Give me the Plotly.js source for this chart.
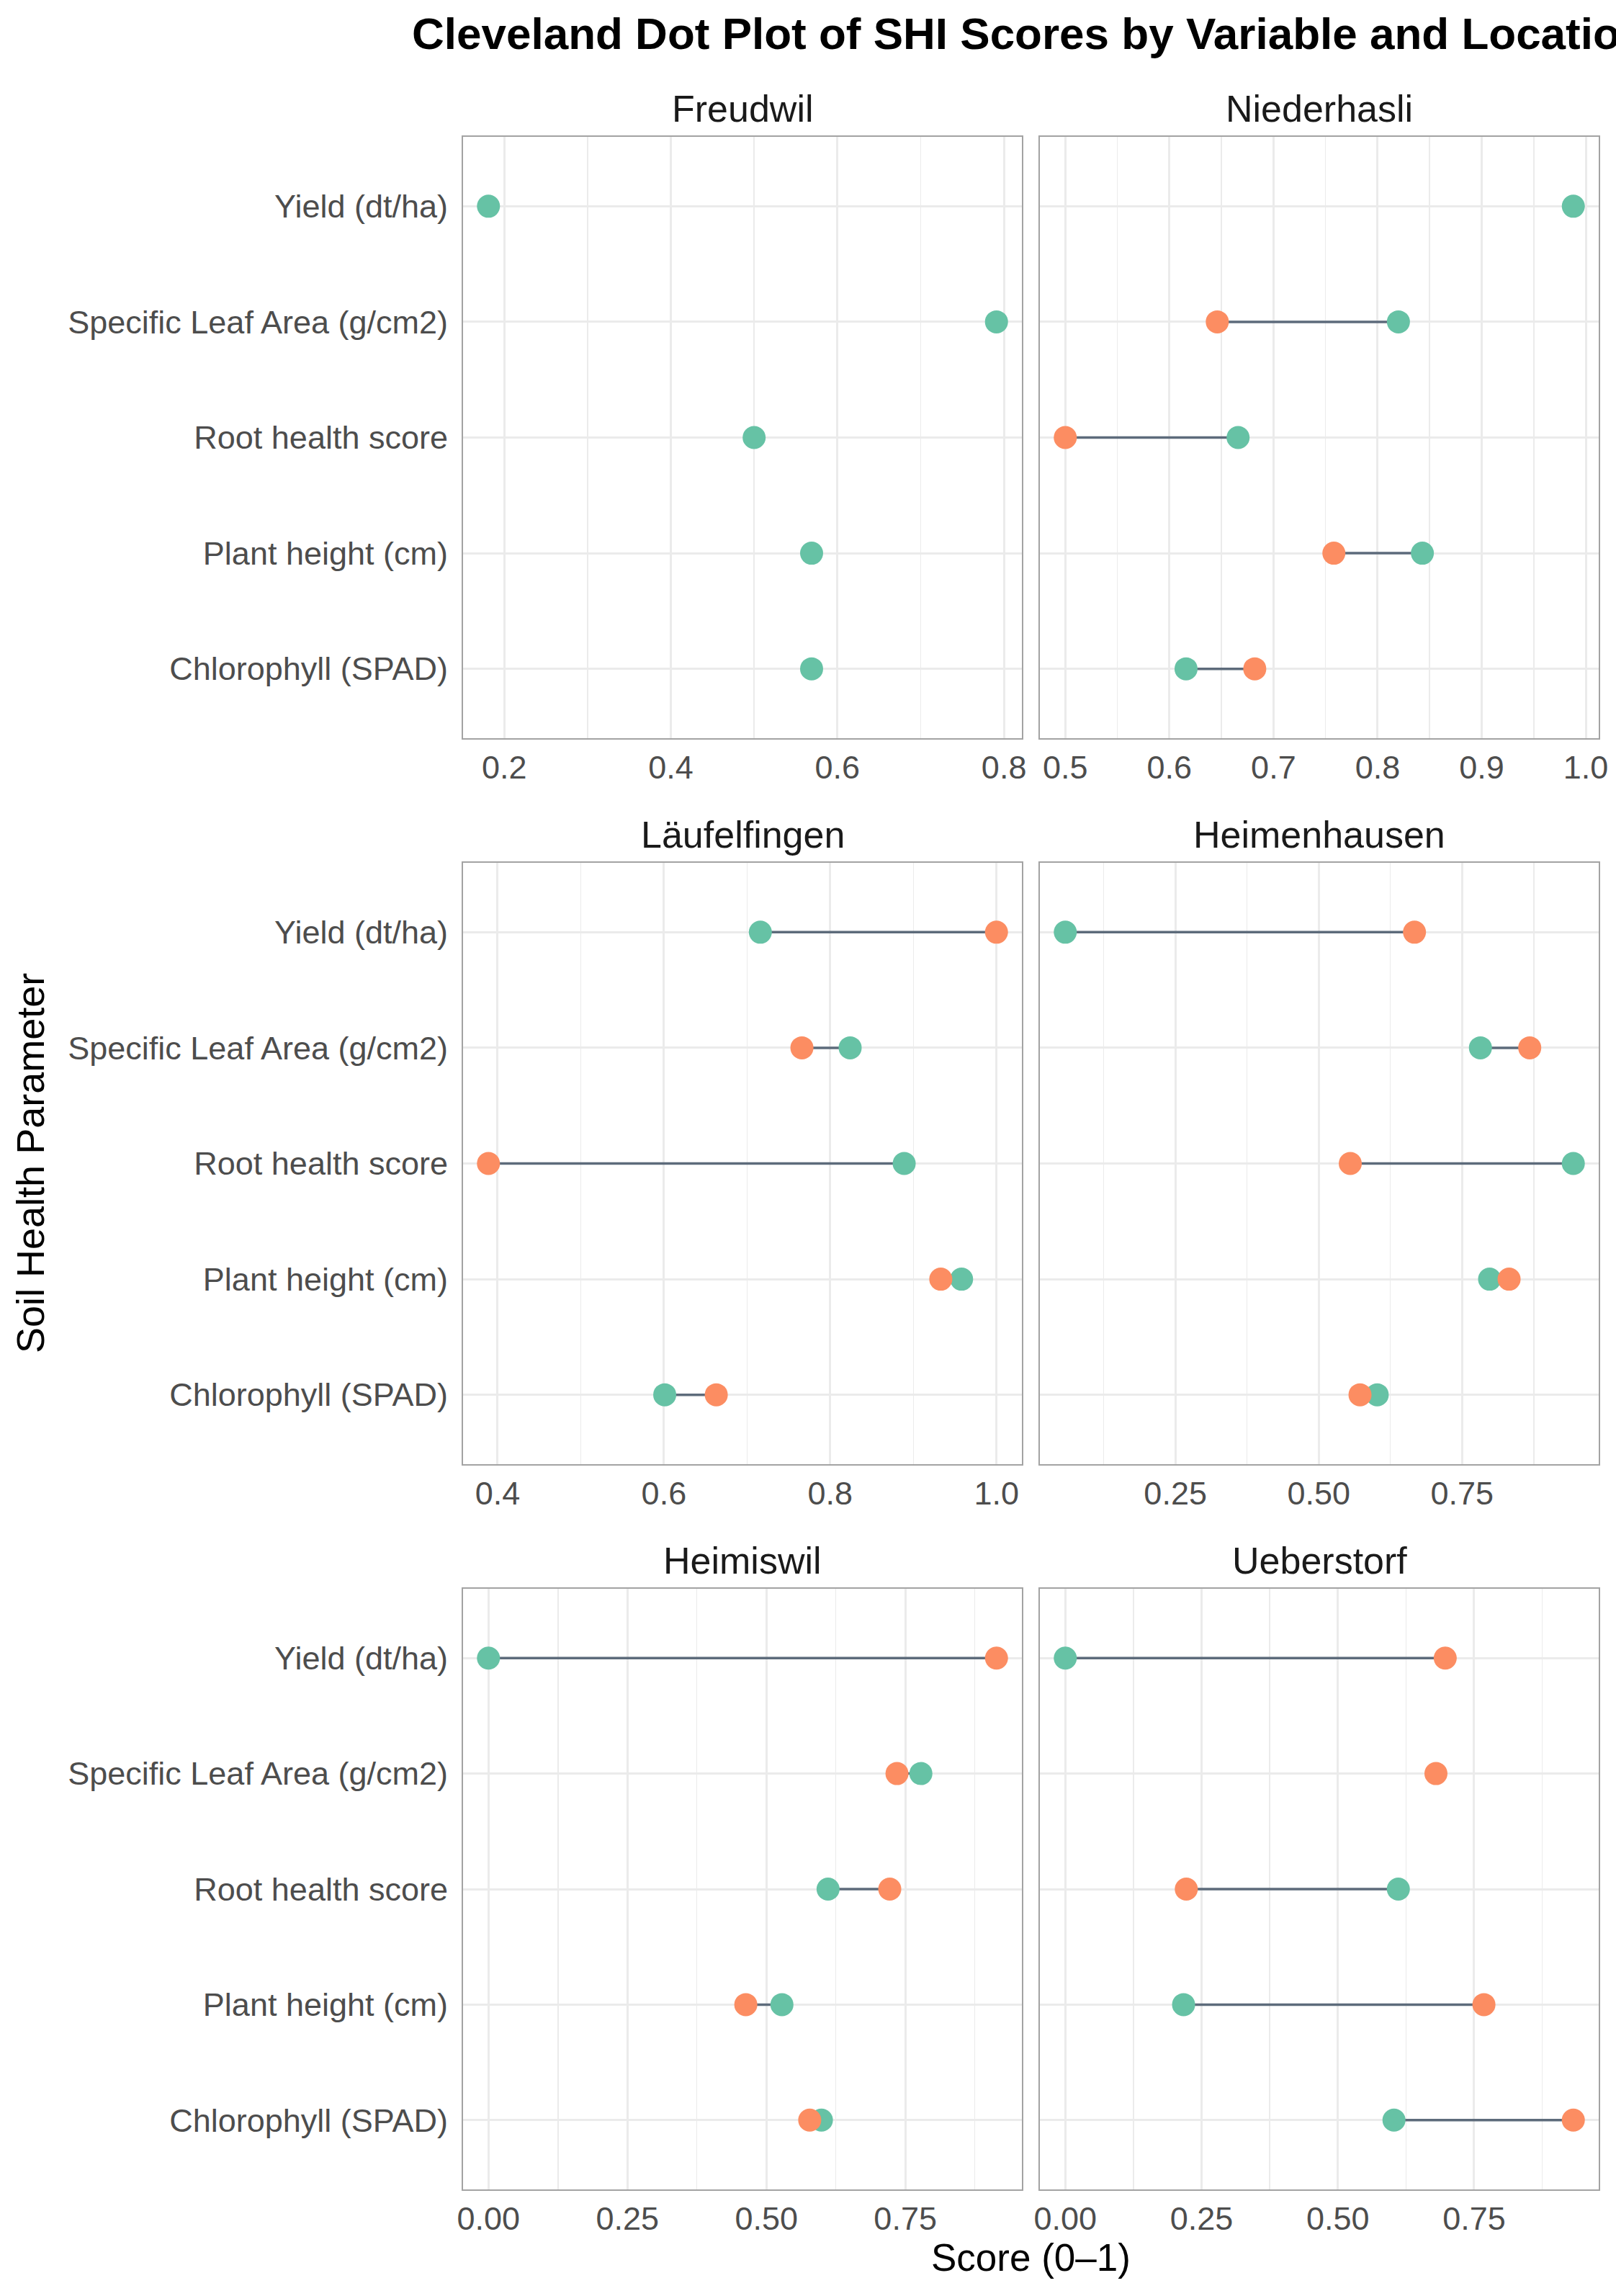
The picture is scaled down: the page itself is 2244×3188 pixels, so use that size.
<!DOCTYPE html>
<html>
<head>
<meta charset="utf-8">
<script src="https://cdn.plot.ly/plotly-3.0.1.min.js"></script>
<style>html,body{margin:0;padding:0;background:#fff;overflow:hidden}</style>
</head>
<body>
<div id="chart" style="width:2244px;height:3188px;"></div>
<script>
// ---- data ----
const categories = ["Chlorophyll (SPAD)", "Plant height (cm)", "Root health score", "Specific Leaf Area (g/cm2)", "Yield (dt/ha)"];
const locations = ["Freudwil", "Niederhasli", "Läufelfingen", "Heimenhausen", "Heimiswil", "Ueberstorf"];

// green series (order follows categories)
const greenFreudwil     = [0.569, 0.569, 0.500, 0.791, 0.181];
const greenNiederhasli  = [0.616, 0.843, 0.666, 0.820, 0.988];
const greenLaufelfingen = [0.601, 0.958, 0.889, 0.824, 0.716];
const greenHeimenhausen = [0.602, 0.798, 0.944, 0.782, 0.058];
const greenHeimiswil    = [0.599, 0.528, 0.611, 0.778, 0.000];
const greenUeberstorf   = [0.603, 0.217, 0.611, null,  0.000];

// orange series
const orangeFreudwil     = [null,  null,  null,  null,  null];
const orangeNiederhasli  = [0.682, 0.758, 0.500, 0.646, null];
const orangeLaufelfingen = [0.663, 0.933, 0.389, 0.766, 1.000];
const orangeHeimenhausen = [0.572, 0.832, 0.555, 0.868, 0.667];
const orangeHeimiswil    = [0.578, 0.463, 0.722, 0.735, 0.914];
const orangeUeberstorf   = [0.932, 0.768, 0.222, 0.680, 0.697];

// tick labels per panel
const ticksFreudwil     = [0.2, 0.4, 0.6, 0.8];
const tickTextFreudwil  = ["0.2", "0.4", "0.6", "0.8"];
const minorFreudwil     = [0.3, 0.5, 0.7];
const ticksNiederhasli  = [0.5, 0.6, 0.7, 0.8, 0.9, 1.0];
const tickTextNiederhasli = ["0.5", "0.6", "0.7", "0.8", "0.9", "1.0"];
const minorNiederhasli  = [0.55, 0.65, 0.75, 0.85, 0.95];
const ticksLaufelfingen = [0.4, 0.6, 0.8, 1.0];
const tickTextLaufelfingen = ["0.4", "0.6", "0.8", "1.0"];
const minorLaufelfingen = [0.5, 0.7, 0.9];
const ticksQuarter      = [0, 0.25, 0.5, 0.75];
const tickTextQuarter   = ["0.00", "0.25", "0.50", "0.75"];
const minorQuarter      = [0.125, 0.375, 0.625, 0.875];

const greens  = [greenFreudwil, greenNiederhasli, greenLaufelfingen, greenHeimenhausen, greenHeimiswil, greenUeberstorf];
const oranges = [orangeFreudwil, orangeNiederhasli, orangeLaufelfingen, orangeHeimenhausen, orangeHeimiswil, orangeUeberstorf];
const tickSets = [
  [ticksFreudwil, tickTextFreudwil, minorFreudwil],
  [ticksNiederhasli, tickTextNiederhasli, minorNiederhasli],
  [ticksLaufelfingen, tickTextLaufelfingen, minorLaufelfingen],
  [ticksQuarter, tickTextQuarter, minorQuarter],
  [ticksQuarter, tickTextQuarter, minorQuarter],
  [ticksQuarter, tickTextQuarter, minorQuarter]
];

// ---- style ----
const W = 2244, H = 3188;
const FONT = "Liberation Sans, Arial, Helvetica, sans-serif";
const GREEN = "#66C2A5", ORANGE = "#FC8D62", SEG = "#5d6b7b";
const colPx = [[643, 1419], [1444, 2220]];
const rowPx = [[190, 1025], [1198, 2033], [2206, 3040]];
const px2x = p => p / W;
const px2y = p => 1 - p / H;

const traces = [];
const layout = {
  width: W, height: H,
  margin: {l: 0, r: 0, t: 0, b: 0},
  paper_bgcolor: "#ffffff",
  plot_bgcolor: "#ffffff",
  showlegend: false,
  hovermode: false,
  font: {family: FONT, color: "#4D4D4D"},
  title: {
    text: "<b>Cleveland Dot Plot of SHI Scores by Variable and Location</b>",
    font: {family: FONT, size: 62, color: "#000000"},
    xref: "container", yref: "container",
    x: 572 / W, xanchor: "left",
    y: 1 - 46 / H, yanchor: "middle"
  },
  annotations: []
};

locations.forEach((loc, i) => {
  const n = i + 1;
  const xa = "x" + (n === 1 ? "" : n), ya = "y" + (n === 1 ? "" : n);
  const row = Math.floor(i / 2), col = i % 2;
  const g = greens[i], o = oranges[i];

  // segments
  const sx = [], sy = [];
  categories.forEach((c, k) => {
    if (g[k] !== null && o[k] !== null) { sx.push(g[k], o[k], null); sy.push(c, c, null); }
  });
  traces.push({type: "scatter", mode: "lines", x: sx, y: sy, xaxis: xa, yaxis: ya,
    line: {color: SEG, width: 3.5}, connectgaps: false, hoverinfo: "skip"});
  traces.push({type: "scatter", mode: "markers", x: g, y: categories, xaxis: xa, yaxis: ya,
    marker: {color: GREEN, size: 32, line: {width: 0}}, hoverinfo: "skip"});
  traces.push({type: "scatter", mode: "markers", x: o, y: categories, xaxis: xa, yaxis: ya,
    marker: {color: ORANGE, size: 32, line: {width: 0}}, hoverinfo: "skip"});

  // ggplot-like 5% expansion from data
  const vals = g.concat(o).filter(v => v !== null);
  const mn = Math.min(...vals), mx = Math.max(...vals), sp = mx - mn;
  const [tv, tt, mv] = tickSets[i];

  layout["xaxis" + (n === 1 ? "" : n)] = {
    domain: [px2x(colPx[col][0]), px2x(colPx[col][1])],
    anchor: ya,
    range: [mn - 0.05 * sp, mx + 0.05 * sp],
    tickmode: "array", tickvals: tv, ticktext: tt,
    ticks: "", ticklabelstandoff: 0,
    tickfont: {family: FONT, size: 45, color: "#4D4D4D"},
    showgrid: true, gridcolor: "#EBEBEB", gridwidth: 3,
    minor: {tickmode: "array", tickvals: mv, showgrid: true, gridcolor: "#EBEBEB", gridwidth: 1.5, ticks: ""},
    zeroline: false,
    showline: true, mirror: true, linecolor: "#A3A3A3", linewidth: 2
  };
  layout["yaxis" + (n === 1 ? "" : n)] = {
    domain: [px2y(rowPx[row][1]), px2y(rowPx[row][0])],
    anchor: xa,
    type: "category",
    categoryorder: "array", categoryarray: categories,
    range: [-0.6, categories.length - 0.4],
    showticklabels: col === 0,
    ticks: "", ticklabelstandoff: 10,
    tickfont: {family: FONT, size: 45, color: "#4D4D4D"},
    showgrid: true, gridcolor: "#EBEBEB", gridwidth: 3,
    zeroline: false,
    showline: true, mirror: true, linecolor: "#A3A3A3", linewidth: 2
  };

  // facet strip label
  layout.annotations.push({
    text: loc, showarrow: false,
    xref: "paper", yref: "paper",
    x: px2x((colPx[col][0] + colPx[col][1]) / 2), xanchor: "center",
    y: px2y(rowPx[row][0]), yanchor: "bottom", yshift: 8,
    font: {family: FONT, size: 52, color: "#1A1A1A"}
  });
});

// common axis titles
layout.annotations.push({
  text: "Score (0–1)", showarrow: false,
  xref: "paper", yref: "paper",
  x: px2x((colPx[0][0] + colPx[1][1]) / 2), xanchor: "center",
  y: px2y(3134), yanchor: "middle",
  font: {family: FONT, size: 53, color: "#000000"}
});
layout.annotations.push({
  text: "Soil Health Parameter", showarrow: false, textangle: -90,
  xref: "paper", yref: "paper",
  x: px2x(42), xanchor: "center",
  y: px2y((rowPx[0][0] + rowPx[2][1]) / 2), yanchor: "middle",
  font: {family: FONT, size: 54, color: "#000000"}
});

Plotly.newPlot("chart", traces, layout, {staticPlot: true, displayModeBar: false});
</script>
</body>
</html>
